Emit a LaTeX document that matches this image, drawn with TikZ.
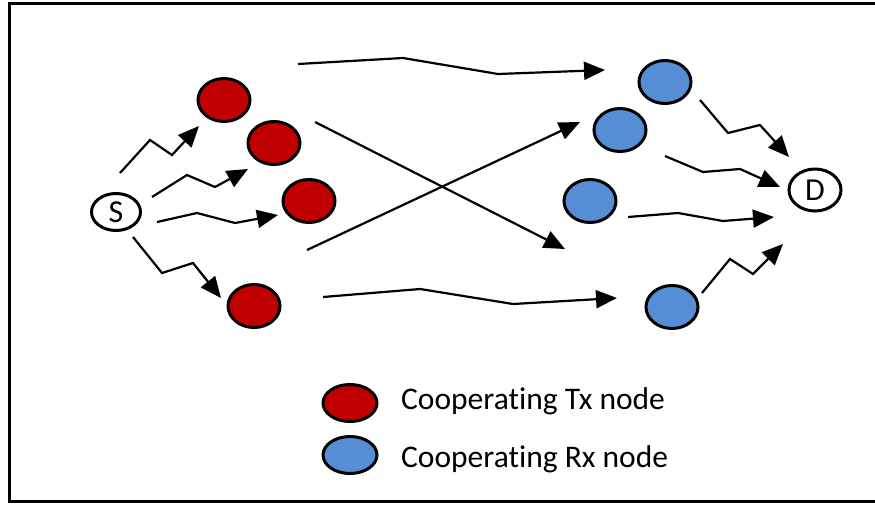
\documentclass[tikz,border=0pt]{standalone}
\usepackage{fontspec}
\setmainfont{Carlito}[Ligatures={NoCommon}]
\usetikzlibrary{shapes.geometric,arrows.meta}
\definecolor{txred}{RGB}{192,0,0}
\definecolor{rxblue}{RGB}{85,142,213}
\tikzset{
  nodebase/.style={ellipse, draw=black, line width=3pt, inner sep=0pt},
  txnode/.style={nodebase, fill=txred, minimum width=52pt, minimum height=43pt},
  rxnode/.style={nodebase, fill=rxblue, minimum width=52pt, minimum height=43pt},
  endnode/.style={nodebase, fill=white, font=\fontsize{32}{34}\selectfont},
  legtx/.style={nodebase, fill=txred, minimum width=54pt, minimum height=37pt},
  legrx/.style={nodebase, fill=rxblue, minimum width=54pt, minimum height=37pt},
  legtext/.style={anchor=west, inner sep=0pt, font=\fontsize{31.5}{33}\selectfont},
  link/.style={draw=black, line width=2.2pt, line join=miter, -{Triangle[length=21pt,width=18pt]}},
}
\begin{document}
\begin{tikzpicture}[x=1pt,y=-1pt]
\clip (0,0) rectangle (875,504);
\useasboundingbox (0,0) rectangle (875,504);
\fill[white] (0,0) rectangle (875,504);
\draw[line width=3pt] (9.5,3.5) rectangle (890,501);

% nodes
\node[endnode, minimum width=49pt, minimum height=37pt] (S) at (116,212) {S};
\node[endnode, minimum width=52pt, minimum height=42pt] (D) at (815,190) {D};
\node[txnode] (T1) at (224,100) {};
\node[txnode] (T2) at (274,143) {};
\node[txnode] (T3) at (309,201) {};
\node[txnode] (T4) at (254,306) {};
\node[rxnode] (R1) at (665,82) {};
\node[rxnode] (R2) at (620,130) {};
\node[rxnode] (R3) at (590,201) {};
\node[rxnode] (R4) at (672,307) {};

% connector end points
\coordinate (s1) at (120,173); \coordinate (t1) at (199,126);
\coordinate (s2) at (152,197); \coordinate (t2) at (248,169);
\coordinate (s3) at (157,222); \coordinate (t3) at (278,215);
\coordinate (s4) at (133,237); \coordinate (t4) at (221,298);
\coordinate (a1) at (298,64);  \coordinate (b1) at (605,70);
\coordinate (a2) at (315,122); \coordinate (b2) at (565,249);
\coordinate (a3) at (307,250); \coordinate (b3) at (580,122);
\coordinate (a4) at (323,297); \coordinate (b4) at (617,298);
\coordinate (r1) at (700,100); \coordinate (d1) at (789,157);
\coordinate (r2) at (665,156); \coordinate (d2) at (780,187);
\coordinate (r3) at (628,217); \coordinate (d3) at (774,217);
\coordinate (r4) at (702,293); \coordinate (d4) at (783,244);

% S to Tx
\draw[link] (s1) -- (150,140) -- (172,155) -- (t1);
\draw[link] (s2) -- (187,175) -- (215,187) -- (t2);
\draw[link] (s3) -- (197,213) -- (235,223) -- (t3);
\draw[link] (s4) -- (162,273) -- (193,263) -- (t4);

% Tx to Rx
\draw[link] (a1) -- (403,58) -- (498,74) -- (b1);
\draw[link] (a2) -- (b2);
\draw[link] (a3) -- (b3);
\draw[link] (a4) -- (420,289) -- (513,304) -- (b4);

% Rx to D
\draw[link] (r1) -- (728,133) -- (760,125) -- (d1);
\draw[link] (r2) -- (703,172) -- (740,169) -- (d2);
\draw[link] (r3) -- (678,213) -- (723,221) -- (d3);
\draw[link] (r4) -- (730,259) -- (753,274) -- (d4);

% legend
\node[legtx] (L1) at (350,403) {};
\node[legrx] (L2) at (350,455) {};
\node[legtext] (L1t) at (401,401) {Cooperating Tx node};
\node[legtext] (L2t) at (401,459) {Cooperating Rx node};
\end{tikzpicture}
\end{document}
